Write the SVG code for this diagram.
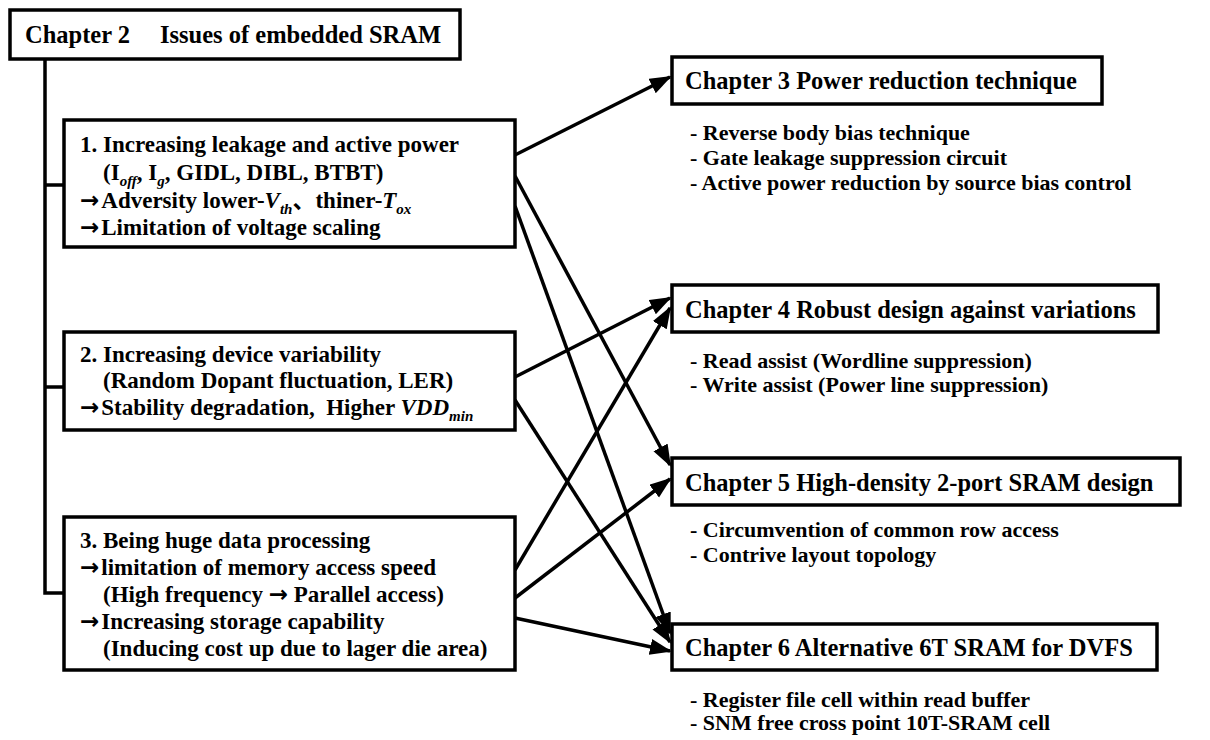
<svg xmlns="http://www.w3.org/2000/svg" width="1210" height="740" viewBox="0 0 1210 740">
<style>
.box{fill:#fff;stroke:#000;stroke-width:3.5}
.t{font-family:"Liberation Serif","Times New Roman","Noto Sans CJK JP",serif;font-weight:bold;fill:#000}
.l{font-size:23px}
.h{font-size:24.5px}
.s{font-size:22px}
.it{font-style:italic}
.sb{font-size:15px;font-style:italic}
.ar{font-family:"DejaVu Sans",sans-serif;font-weight:bold}
.wire{stroke:#000;stroke-width:3.5;fill:none}
.arr{stroke:#000;stroke-width:3.5;fill:none;marker-end:url(#ah)}
</style>
<defs>
<marker id="ah" markerUnits="userSpaceOnUse" markerWidth="24" markerHeight="18" refX="20" refY="8" orient="auto">
<path d="M0,0 L22,8 L0,16 z" fill="#000"/>
</marker>
</defs>
<rect width="1210" height="740" fill="#fff"/>
<g id="connectors">
<path class="wire" d="M45,59 V593 H64 M45,185 H64 M45,387 H64"/>
<line class="arr" x1="515" y1="155" x2="670" y2="77"/>
<line class="arr" x1="515" y1="176" x2="670" y2="465"/>
<line class="arr" x1="515" y1="206" x2="670" y2="633"/>
<line class="arr" x1="515" y1="377" x2="670" y2="298"/>
<line class="arr" x1="515" y1="400" x2="670" y2="642"/>
<line class="arr" x1="515" y1="570" x2="670" y2="308"/>
<line class="arr" x1="515" y1="598" x2="670" y2="479"/>
<line class="arr" x1="515" y1="618" x2="670" y2="651"/>
</g>
<g id="ch2">
<rect class="box" x="10" y="10" width="450" height="49"/>
<text class="t h" x="25" y="43">Chapter 2<tspan x="160">Issues of embedded SRAM</tspan></text>
</g>
<g id="issue1">
<rect class="box" x="64" y="120" width="451" height="127"/>
<text class="t l" x="80" y="152">1. Increasing leakage and active power</text>
<text class="t l" x="103" y="180">(I<tspan class="sb" dy="6">off</tspan><tspan dy="-6">, I</tspan><tspan class="sb" dy="6">g</tspan><tspan dy="-6">, GIDL, DIBL, BTBT)</tspan></text>
<text class="t l" x="80" y="208"><tspan class="ar">→</tspan><tspan dx="2">Adversity lower-</tspan><tspan class="it">V</tspan><tspan class="sb" dy="6">th</tspan><tspan dy="-6">、thiner-</tspan><tspan class="it">T</tspan><tspan class="sb" dy="6">ox</tspan></text>
<text class="t l" x="80" y="235"><tspan class="ar">→</tspan><tspan dx="2">Limitation of voltage scaling</tspan></text>
</g>
<g id="issue2">
<rect class="box" x="64" y="332" width="451" height="98"/>
<text class="t l" x="80" y="362">2. Increasing device variability</text>
<text class="t l" x="103" y="388">(Random Dopant fluctuation, LER)</text>
<text class="t l" x="80" y="415"><tspan class="ar">→</tspan><tspan dx="2">Stability degradation,&#160; Higher </tspan><tspan class="it">VDD</tspan><tspan class="sb" dy="6">min</tspan></text>
</g>
<g id="issue3">
<rect class="box" x="64" y="517" width="451" height="153"/>
<text class="t l" x="80" y="548">3. Being huge data processing</text>
<text class="t l" x="80" y="575"><tspan class="ar">→</tspan><tspan dx="2">limitation of memory access speed</tspan></text>
<text class="t l" x="103" y="602">(High frequency <tspan class="ar">→</tspan> Parallel access)</text>
<text class="t l" x="80" y="629"><tspan class="ar">→</tspan><tspan dx="2">Increasing storage capability</tspan></text>
<text class="t l" x="103" y="656">(Inducing cost up due to lager die area)</text>
</g>
<g id="ch3">
<rect class="box" x="672" y="57" width="430" height="47"/>
<text class="t h" x="685" y="89">Chapter 3 Power reduction technique</text>
<text class="t s" x="690" y="140">- Reverse body bias technique</text>
<text class="t s" x="690" y="165">- Gate leakage suppression circuit</text>
<text class="t s" x="690" y="190">- Active power reduction by source bias control</text>
</g>
<g id="ch4">
<rect class="box" x="672" y="285" width="486" height="47"/>
<text class="t h" x="685" y="318">Chapter 4 Robust design against variations</text>
<text class="t s" x="690" y="368">- Read assist (Wordline suppression)</text>
<text class="t s" x="690" y="392">- Write assist (Power line suppression)</text>
</g>
<g id="ch5">
<rect class="box" x="672" y="458" width="508" height="47"/>
<text class="t h" x="685" y="491">Chapter 5 High-density 2-port SRAM design</text>
<text class="t s" x="690" y="537">- Circumvention of common row access</text>
<text class="t s" x="690" y="562">- Contrive layout topology</text>
</g>
<g id="ch6">
<rect class="box" x="672" y="624" width="485" height="46"/>
<text class="t h" x="685" y="656">Chapter 6 Alternative 6T SRAM for DVFS</text>
<text class="t s" x="690" y="707">- Register file cell within read buffer</text>
<text class="t s" x="690" y="730">- SNM free cross point 10T-SRAM cell</text>
</g>
</svg>
